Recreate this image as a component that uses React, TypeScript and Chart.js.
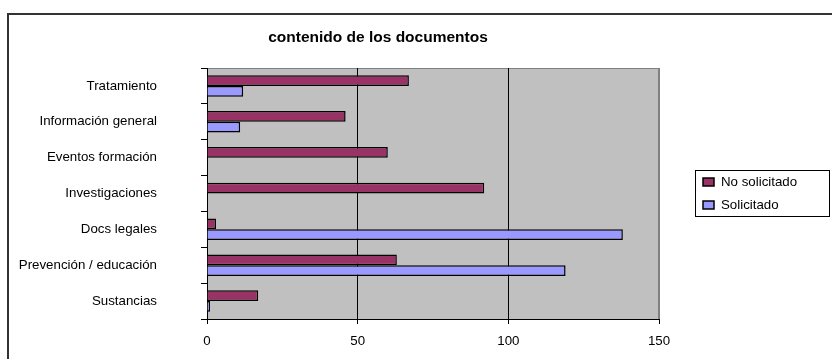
import React, { useEffect, useRef } from "react";
import { Chart, registerables } from "chart.js";

Chart.register(...registerables);

const titleText = "contenido de los documentos";
const categories = [
  "Tratamiento",
  "Información general",
  "Eventos formación",
  "Investigaciones",
  "Docs legales",
  "Prevención / educación",
  "Sustancias",
];
const seriesNames = ["No solicitado", "Solicitado"];
const noSolicitado = [67, 46, 60, 92, 3, 63, 17];
const solicitado = [12, 11, 0, 0, 138, 119, 1];
const xTicks = [0, 50, 100, 150];
const colors = ["#993366", "#9999FF"];

const FONT = "'Liberation Sans', Arial, sans-serif";

const decorPlugin = {
  id: "decor",
  beforeDraw(chart: any) {
    const { ctx, chartArea: a } = chart;
    ctx.save();
    ctx.fillStyle = "#ffffff";
    ctx.fillRect(0, 0, chart.width, chart.height);
    ctx.strokeStyle = "#333333";
    ctx.lineWidth = 2;
    ctx.strokeRect(8, 14, chart.width + 20, chart.height + 20);
    ctx.fillStyle = "#C0C0C0";
    ctx.fillRect(a.left, a.top, a.right - a.left, a.bottom - a.top);
    ctx.strokeStyle = "#808080";
    ctx.lineWidth = 1;
    ctx.strokeRect(a.left + 0.5, a.top + 0.5, a.right - a.left - 1, a.bottom - a.top);
    ctx.restore();
  },
  afterDraw(chart: any) {
    const { ctx } = chart;
    ctx.save();
    ctx.fillStyle = "#000";
    ctx.font = `bold 15.5px ${FONT}`;
    ctx.textAlign = "center";
    ctx.textBaseline = "middle";
    ctx.fillText(titleText, 378, 38);
    ctx.fillStyle = "#ffffff";
    ctx.fillRect(695, 170, 135, 47);
    ctx.strokeStyle = "#000";
    ctx.lineWidth = 1;
    ctx.strokeRect(695.5, 170.5, 134, 46);
    ctx.font = `13.3px ${FONT}`;
    ctx.textAlign = "left";
    const ys = [182, 205];
    chart.data.datasets.forEach((ds: any, i: number) => {
      const y = ys[i];
      ctx.fillStyle = ds.backgroundColor;
      ctx.fillRect(703, y - 4, 11, 8);
      ctx.strokeStyle = "#000";
      ctx.lineWidth = 1.5;
      ctx.strokeRect(703, y - 4, 11, 8);
      ctx.fillStyle = "#000";
      ctx.fillText(ds.label, 721, y);
    });
    ctx.restore();
  },
};

export default function App() {
  const ref = useRef<HTMLCanvasElement>(null);
  useEffect(() => {
    document.body.style.margin = "0";
    const chart = new Chart(ref.current!, {
      type: "bar",
      data: {
        labels: categories,
        datasets: [
          {
            label: seriesNames[0],
            data: noSolicitado,
            backgroundColor: colors[0],
            borderColor: "#000000",
            borderWidth: 1.5,
            categoryPercentage: 0.6,
            barPercentage: 1,
          },
          {
            label: seriesNames[1],
            data: solicitado,
            backgroundColor: colors[1],
            borderColor: "#000000",
            borderWidth: 1.5,
            categoryPercentage: 0.6,
            barPercentage: 1,
          },
        ],
      },
      options: {
        indexAxis: "y",
        animation: false,
        responsive: false,
        maintainAspectRatio: false,
        layout: { padding: { left: 0, right: 173, top: 68, bottom: 0 } },
        plugins: {
          legend: { display: false },
          title: { display: false },
          tooltip: { enabled: false },
        },
        scales: {
          x: {
            type: "linear",
            min: 0,
            max: 150,
            afterBuildTicks: (s: any) => {
              s.ticks = xTicks.map((v) => ({ value: v }));
            },
            afterFit: (s: any) => {
              s.height = 40;
            },
            grid: {
              color: (c: any) => (c.tick && c.tick.value === 150 ? "#808080" : "#000000"),
              tickColor: "#000000",
              tickLength: 5,
              lineWidth: 1,
            },
            border: { color: "#000000", width: 1 },
            ticks: {
              color: "#000000",
              font: { family: FONT, size: 13.3 },
              padding: 9,
            },
          },
          y: {
            type: "category",
            afterFit: (s: any) => {
              s.width = 207;
              s.paddingTop = 0;
              s.paddingBottom = 0;
            },
            grid: {
              offset: true,
              drawOnChartArea: false,
              tickColor: "#000000",
              tickLength: 6,
            },
            border: { color: "#000000", width: 1 },
            ticks: {
              color: "#000000",
              font: { family: FONT, size: 13.3 },
              padding: 44,
            },
          },
        },
      },
      plugins: [decorPlugin],
    });
    return () => chart.destroy();
  }, []);
  return <canvas ref={ref} width={832} height={359} style={{ display: "block" }} />;
}
